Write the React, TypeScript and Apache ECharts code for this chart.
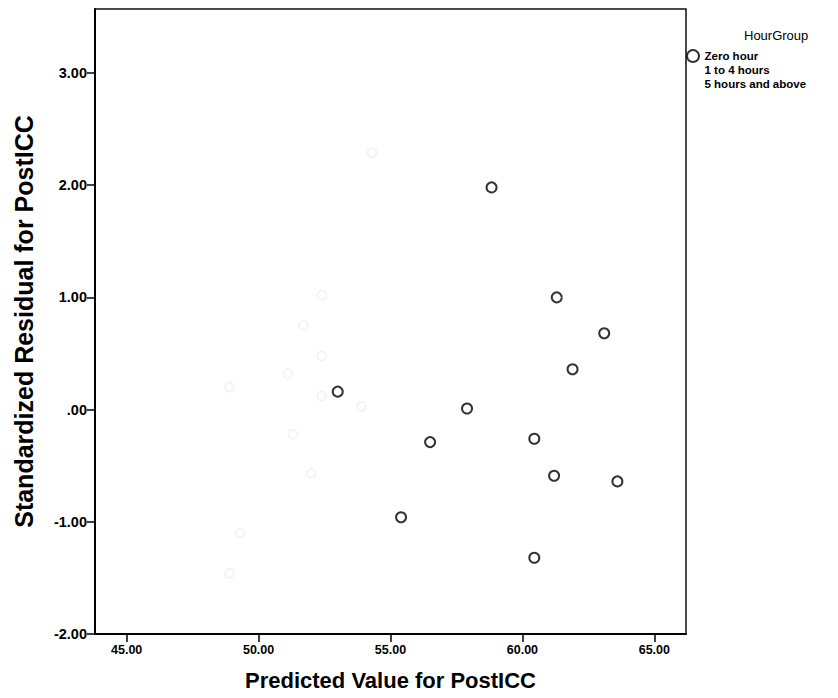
import React, { useEffect, useRef } from "react";
import * as echarts from "echarts";

const xTicks = [45, 50, 55, 60, 65];
const yTicks = [-2, -1, 0, 1, 2, 3];

const zeroHour: [number, number][] = [
  [58.83, 1.98],
  [61.3, 1.0],
  [63.1, 0.68],
  [61.9, 0.36],
  [53.0, 0.16],
  [57.9, 0.01],
  [56.5, -0.29],
  [60.45, -0.26],
  [61.2, -0.59],
  [63.6, -0.64],
  [55.4, -0.96],
  [60.45, -1.32],
];

const oneToFour: [number, number][] = [
  [54.3, 2.29],
  [52.4, 1.02],
  [51.7, 0.75],
  [52.4, 0.48],
  [51.1, 0.32],
  [52.4, 0.12],
];

const fivePlus: [number, number][] = [
  [48.9, 0.2],
  [53.9, 0.03],
  [51.3, -0.22],
  [52.0, -0.57],
  [49.3, -1.1],
  [48.9, -1.46],
];

const seriesNames = ["Zero hour", "1 to 4 hours", "5 hours and above"];

const fmtY = (v: number) => {
  if (Math.abs(v) < 1e-9) return ".00";
  return v.toFixed(2);
};

export default function App() {
  const ref = useRef<HTMLDivElement>(null);
  useEffect(() => {
    if (!ref.current) return;
    const chart = echarts.init(ref.current, null, { renderer: "svg" });
    const font = "'Liberation Sans', Arial, sans-serif";
    chart.setOption({
      animation: false,
      backgroundColor: "#ffffff",
      title: {
        text: "HourGroup",
        left: 739,
        top: 24,
        textStyle: { fontFamily: font, fontSize: 13, fontWeight: "normal", color: "#000" },
      },
      legend: {
        orient: "vertical",
        left: 681,
        top: 44,
        itemWidth: 13,
        itemHeight: 12,
        itemGap: 0,
        textStyle: { fontFamily: font, fontSize: 11.5, lineHeight: 14, fontWeight: "bold", color: "#000", padding: [0, 0, 0, 0] },
        data: [
          { name: seriesNames[0], icon: "emptyCircle" },
          { name: seriesNames[1], icon: "circle", itemStyle: { opacity: 0 } },
          { name: seriesNames[2], icon: "circle", itemStyle: { opacity: 0 } },
        ],
        selectedMode: false,
      },
      grid: {
        left: 95,
        top: 9,
        right: 152,
        bottom: 64,
        show: true,
        borderColor: "#111",
        borderWidth: 1.5,
        backgroundColor: "transparent",
      },
      xAxis: {
        type: "value",
        min: 43.8,
        max: 66.2,
        name: "Predicted Value for PostICC",
        nameLocation: "middle",
        nameGap: 35,
        nameTextStyle: { fontFamily: font, fontSize: 22, fontWeight: "bold", color: "#000" },
        axisLine: { show: true, onZero: false, lineStyle: { color: "#000", width: 2 } },
        axisTick: { show: true, length: 8, customValues: xTicks, lineStyle: { color: "#000", width: 1.5 } },
        axisLabel: {
          customValues: xTicks,
          formatter: (v: number) => v.toFixed(2),
          fontFamily: font,
          fontSize: 12.5,
          fontWeight: "bold",
          color: "#000",
          margin: 9,
        },
        splitLine: { show: false },
      },
      yAxis: {
        type: "value",
        min: -2,
        max: 3.57,
        name: "Standardized Residual for PostICC",
        nameLocation: "middle",
        nameGap: 59,
        nameTextStyle: { fontFamily: font, fontSize: 25, fontWeight: "bold", color: "#000" },
        axisLine: { show: true, onZero: false, lineStyle: { color: "#000", width: 2 } },
        axisTick: { show: true, length: 8, customValues: yTicks, lineStyle: { color: "#000", width: 1.5 } },
        axisLabel: {
          customValues: yTicks,
          formatter: fmtY,
          fontFamily: font,
          fontSize: 14.5,
          fontWeight: "bold",
          color: "#000",
          margin: 8,
        },
        splitLine: { show: false },
      },
      series: [
        {
          name: seriesNames[0],
          type: "scatter",
          data: zeroHour,
          symbol: "emptyCircle",
          symbolSize: 10,
          itemStyle: { color: "#000", borderColor: "#000", borderWidth: 2 },
        },
        {
          name: seriesNames[1],
          type: "scatter",
          data: oneToFour,
          symbol: "emptyCircle",
          symbolSize: 9,
          itemStyle: { color: "#f1f1f1", borderColor: "#f1f1f1", borderWidth: 1 },
        },
        {
          name: seriesNames[2],
          type: "scatter",
          data: fivePlus,
          symbol: "emptyCircle",
          symbolSize: 9,
          itemStyle: { color: "#f1f1f1", borderColor: "#f1f1f1", borderWidth: 1 },
        },
      ],
    });
    return () => chart.dispose();
  }, []);
  return (
    <div
      ref={ref}
      style={{ position: "fixed", left: 0, top: 0, width: 838, height: 698, background: "#fff" }}
    />
  );
}
